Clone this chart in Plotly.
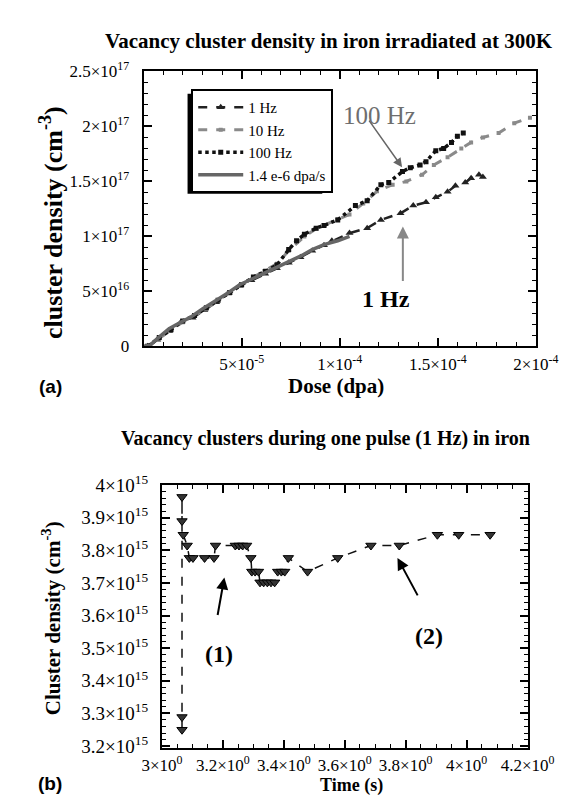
import plotly.graph_objects as go
import numpy as np

W, H = 575, 795

# ---------------- Data: panel (a) ----------------
dose_cont = [0, 0.35e-5, 0.7e-5, 1.3e-5, 1.8e-5, 2.4e-5, 3.0e-5, 3.65e-5, 4.3e-5, 4.9e-5, 5.5e-5,
             6.1e-5, 6.8e-5, 7.4e-5, 8.0e-5, 8.6e-5, 9.2e-5, 9.9e-5, 1.05e-4]
dens_cont = [0, 0.1e16, 0.7e16, 1.6e16, 2.1e16, 2.65e16, 3.4e16, 4.1e16, 4.85e16, 5.6e16, 6.1e16,
             6.65e16, 7.2e16, 7.75e16, 8.2e16, 8.8e16, 9.25e16, 9.6e16, 1.0e17]

dose_1hz = [0.2e-5, 0.7e-5, 1.3e-5, 1.9e-5, 2.5e-5, 3.1e-5, 3.7e-5, 4.3e-5, 4.9e-5, 5.5e-5, 6.2e-5,
            6.8e-5, 7.4e-5, 8.0e-5, 8.6e-5, 9.2e-5, 9.6e-5, 1.05e-4, 1.14e-4, 1.21e-4, 1.31e-4,
            1.375e-4, 1.44e-4, 1.49e-4, 1.55e-4, 1.59e-4, 1.64e-4, 1.67e-4, 1.71e-4, 1.73e-4]
dens_1hz = [0, 0.6e16, 1.4e16, 2.2e16, 2.6e16, 3.3e16, 4.0e16, 4.8e16, 5.5e16, 6.0e16, 6.6e16,
            7.1e16, 7.6e16, 8.1e16, 8.7e16, 9.2e16, 9.6e16, 1.03e17, 1.075e17, 1.15e17, 1.21e17,
            1.28e17, 1.31e17, 1.355e17, 1.405e17, 1.46e17, 1.49e17, 1.53e17, 1.56e17, 1.54e17]

dose_10hz = [0.2e-5, 0.8e-5, 1.4e-5, 2.0e-5, 2.6e-5, 3.2e-5, 3.8e-5, 4.4e-5, 5.0e-5, 5.6e-5, 6.2e-5,
             6.8e-5, 7.4e-5, 8.2e-5, 8.8e-5, 9.2e-5, 9.9e-5, 1.05e-4, 1.12e-4, 1.19e-4, 1.27e-4,
             1.34e-4, 1.42e-4, 1.48e-4, 1.55e-4, 1.62e-4, 1.67e-4, 1.73e-4, 1.81e-4, 1.89e-4, 1.97e-4]
dens_10hz = [0, 0.7e16, 1.5e16, 2.2e16, 2.8e16, 3.4e16, 4.2e16, 4.9e16, 5.6e16, 6.3e16, 6.9e16,
             7.5e16, 8.7e16, 1.0e17, 1.07e17, 1.10e17, 1.155e17, 1.2e17, 1.3e17, 1.41e17, 1.47e17,
             1.50e17, 1.56e17, 1.65e17, 1.72e17, 1.80e17, 1.855e17, 1.90e17, 1.94e17, 2.03e17, 2.08e17]

dose_100hz = [0.2e-5, 0.8e-5, 1.4e-5, 2.0e-5, 2.6e-5, 3.2e-5, 3.8e-5, 4.4e-5, 5.0e-5, 5.6e-5, 6.2e-5,
              6.8e-5, 7.4e-5, 7.8e-5, 8.2e-5, 8.8e-5, 9.2e-5, 9.9e-5, 1.08e-4, 1.14e-4, 1.21e-4,
              1.25e-4, 1.32e-4, 1.36e-4, 1.41e-4, 1.44e-4, 1.49e-4, 1.53e-4, 1.57e-4, 1.60e-4, 1.63e-4]
dens_100hz = [0, 0.8e16, 1.5e16, 2.3e16, 2.8e16, 3.5e16, 4.2e16, 4.9e16, 5.6e16, 6.3e16, 6.8e16,
              7.4e16, 8.8e16, 9.6e16, 1.02e17, 1.075e17, 1.10e17, 1.15e17, 1.28e17, 1.325e17, 1.47e17,
              1.49e17, 1.59e17, 1.625e17, 1.65e17, 1.68e17, 1.78e17, 1.80e17, 1.855e17, 1.91e17, 1.94e17]

xa_tickvals = [5e-5, 1e-4, 1.5e-4, 2e-4]
xa_ticktext = ["5×10<sup>-5</sup>", "1×10<sup>-4</sup>", "1.5×10<sup>-4</sup>", "2×10<sup>-4</sup>"]
ya_tickvals = [0, 5e16, 1e17, 1.5e17, 2e17, 2.5e17]
ya_ticktext = ["0", "5×10<sup>16</sup>", "1×10<sup>17</sup>", "1.5×10<sup>17</sup>",
               "2×10<sup>17</sup>", "2.5×10<sup>17</sup>"]

# ---------------- Data: panel (b) ----------------
time_s = [3.066, 3.066, 3.066, 3.066, 3.070, 3.083, 3.090, 3.102, 3.140, 3.171, 3.176,
          3.241, 3.253, 3.265, 3.278, 3.292, 3.295, 3.306, 3.317, 3.322, 3.334, 3.346,
          3.358, 3.370, 3.380, 3.392, 3.403, 3.415, 3.478, 3.577, 3.686, 3.779, 3.904,
          3.974, 4.077]
dens_pulse = [3.250e15, 3.289e15, 3.964e15, 3.890e15, 3.848e15, 3.815e15, 3.777e15, 3.777e15,
              3.777e15, 3.777e15, 3.815e15, 3.815e15, 3.815e15, 3.815e15, 3.815e15, 3.777e15,
              3.735e15, 3.735e15, 3.735e15, 3.702e15, 3.702e15, 3.702e15, 3.702e15, 3.702e15,
              3.735e15, 3.735e15, 3.735e15, 3.777e15, 3.735e15, 3.777e15, 3.815e15, 3.815e15,
              3.848e15, 3.848e15, 3.848e15]

xb_tickvals = [3.0, 3.2, 3.4, 3.6, 3.8, 4.0, 4.2]
xb_ticktext = ["3×10<sup>0</sup>", "3.2×10<sup>0</sup>", "3.4×10<sup>0</sup>", "3.6×10<sup>0</sup>",
               "3.8×10<sup>0</sup>", "4×10<sup>0</sup>", "4.2×10<sup>0</sup>"]
yb_tickvals = [3.2e15, 3.3e15, 3.4e15, 3.5e15, 3.6e15, 3.7e15, 3.8e15, 3.9e15, 4.0e15]
yb_ticktext = ["3.2×10<sup>15</sup>", "3.3×10<sup>15</sup>", "3.4×10<sup>15</sup>", "3.5×10<sup>15</sup>",
               "3.6×10<sup>15</sup>", "3.7×10<sup>15</sup>", "3.8×10<sup>15</sup>", "3.9×10<sup>15</sup>",
               "4×10<sup>15</sup>"]

SERIF = "Liberation Serif"
SANS = "Liberation Sans"

def px(xp):
    return xp / W

def py(yp):
    return 1 - yp / H

fig = go.Figure()

fig.add_trace(go.Scatter(x=dose_1hz, y=dens_1hz, name="1 Hz", mode="lines+markers",
                         line=dict(color="#222", width=2.5, dash="dash"),
                         marker=dict(symbol="triangle-up", size=7, color="#222"),
                         xaxis="x", yaxis="y"))
fig.add_trace(go.Scatter(x=dose_10hz, y=dens_10hz, name="10 Hz", mode="lines+markers",
                         line=dict(color="#8a8a8a", width=3, dash="dash"),
                         marker=dict(symbol="square", size=4, color="#8a8a8a"),
                         xaxis="x", yaxis="y"))
fig.add_trace(go.Scatter(x=dose_100hz, y=dens_100hz, name="100 Hz", mode="lines+markers",
                         line=dict(color="#111", width=3.5, dash="dot"),
                         marker=dict(symbol="square", size=5, color="#111"),
                         xaxis="x", yaxis="y"))
fig.add_trace(go.Scatter(x=dose_cont, y=dens_cont, name="1.4 e-6 dpa/s", mode="lines",
                         line=dict(color="#666", width=3.5),
                         xaxis="x", yaxis="y"))

fig.add_trace(go.Scatter(x=time_s, y=dens_pulse, mode="lines+markers", showlegend=False,
                         line=dict(color="#111", width=1.5, dash="dash"),
                         marker=dict(symbol="triangle-down", size=9, color="#333",
                                     line=dict(color="#000", width=1)),
                         xaxis="x2", yaxis="y2"))

axis_common = dict(showline=True, linewidth=2, linecolor="black", mirror="ticks",
                   ticks="inside", ticklen=8, tickwidth=1.5, tickcolor="black",
                   showgrid=False, zeroline=False, tickmode="array", tickangle=0)

fig.update_layout(
    width=W, height=H, margin=dict(l=0, r=0, t=0, b=0),
    paper_bgcolor="white", plot_bgcolor="white",
    xaxis=dict(domain=[px(125), px(553)], range=[0, 2e-4], anchor="y",
               tickvals=xa_tickvals, ticktext=xa_ticktext,
               tickfont=dict(family=SERIF, size=17, color="black"), ticklabelstandoff=1,
               minor=dict(tickmode="array", tickvals=list(np.arange(1e-5, 2e-4, 1e-5)),
                          ticks="inside", ticklen=4, tickcolor="black", tickwidth=1),
               **axis_common),
    yaxis=dict(domain=[py(335), py(52)], range=[0, 2.5e17], anchor="x",
               tickvals=ya_tickvals, ticktext=ya_ticktext,
               tickfont=dict(family=SERIF, size=17, color="black"), ticklabelstandoff=9,
               minor=dict(tickmode="array", tickvals=list(np.arange(1e16, 2.5e17, 1e16)),
                          ticks="inside", ticklen=4, tickcolor="black", tickwidth=1),
               **axis_common),
    xaxis2=dict(domain=[px(145), px(544)], range=[3.0, 4.2], anchor="y2",
                tickvals=xb_tickvals, ticktext=xb_ticktext,
                tickfont=dict(family=SERIF, size=17, color="black"), ticklabelstandoff=0,
                minor=dict(tickmode="array", tickvals=list(np.arange(3.05, 4.2, 0.05)),
                           ticks="inside", ticklen=4, tickcolor="black", tickwidth=1),
                **axis_common),
    yaxis2=dict(domain=[py(749), py(478)], range=[3.193e15, 4.0e15], anchor="x2",
                tickvals=yb_tickvals, ticktext=yb_ticktext,
                tickfont=dict(family=SERIF, size=19, color="black"), ticklabelstandoff=8,
                minor=dict(tickmode="array", tickvals=list(np.arange(3.2e15, 4.0e15, 0.02e15)),
                           ticks="inside", ticklen=4, tickcolor="black", tickwidth=1),
                **axis_common),
    legend=dict(x=px(177), y=py(70), xanchor="left", yanchor="top",
                bgcolor="white", bordercolor="black", borderwidth=2,
                font=dict(family=SERIF, size=15, color="black"),
                tracegroupgap=0, itemwidth=45),
)

# legend drop shadow (offset down-left)
fig.add_shape(type="rect", xref="paper", yref="paper",
              x0=px(173), x1=px(320), y0=py(178), y1=py(75),
              fillcolor="black", line=dict(width=0), layer="above")

ann = []
def text(x, y, s, size, bold=True, family=SERIF, color="black", angle=0, xref="paper", yref="paper", xanchor="center"):
    ann.append(dict(x=x, y=y, xref=xref, yref=yref, text=(f"<b>{s}</b>" if bold else s),
                    showarrow=False, textangle=angle, xanchor=xanchor, yanchor="middle",
                    font=dict(family=family, size=size, color=color)))

text(px(327), py(21), "Vacancy cluster density in iron irradiated at 300K", 21)
text(px(24), py(207), "cluster density (cm<sup>-3</sup>)", 26, angle=-90)
text(px(335), py(376), "Dose (dpa)", 21)
text(px(23), py(376), "(a)", 19, family=SANS)

text(px(323), py(430), "Vacancy clusters during one pulse (1 Hz) in iron", 20)
text(px(24), py(615), "Cluster density (cm<sup>-3</sup>)", 21, angle=-90)
text(px(352), py(787), "Time (s)", 18)
text(px(23), py(785), "(b)", 19, family=SANS)

# panel (a) labels and arrows
text(1.201e-4, 2.10e17, "100 Hz", 25, bold=False, color="#6e6e6e", xref="x", yref="y")
text(1.238e-4, 4.3e16, "1 Hz", 24, xref="x", yref="y")
ann.append(dict(x=1.318e-4, y=1.63e17, xref="x", yref="y", ax=-34, ay=-48, text="",
                showarrow=True, arrowhead=2, arrowsize=1.2, arrowwidth=1.5, arrowcolor="#666"))
ann.append(dict(x=1.322e-4, y=1.09e17, xref="x", yref="y", ax=0, ay=56, text="",
                showarrow=True, arrowhead=2, arrowsize=1.2, arrowwidth=2, arrowcolor="#888"))

# panel (b) labels and arrows
text(3.188, 3.482e15, "(1)", 24, xref="x2", yref="y2")
text(3.876, 3.539e15, "(2)", 24, xref="x2", yref="y2")
ann.append(dict(x=3.205, y=3.717e15, xref="x2", yref="y2", ax=-7, ay=39, text="",
                showarrow=True, arrowhead=2, arrowsize=1.2, arrowwidth=2, arrowcolor="black"))
ann.append(dict(x=3.773, y=3.777e15, xref="x2", yref="y2", ax=21, ay=39, text="",
                showarrow=True, arrowhead=2, arrowsize=1.2, arrowwidth=2, arrowcolor="black"))

fig.update_layout(annotations=ann)
fig.write_html("out.html")
